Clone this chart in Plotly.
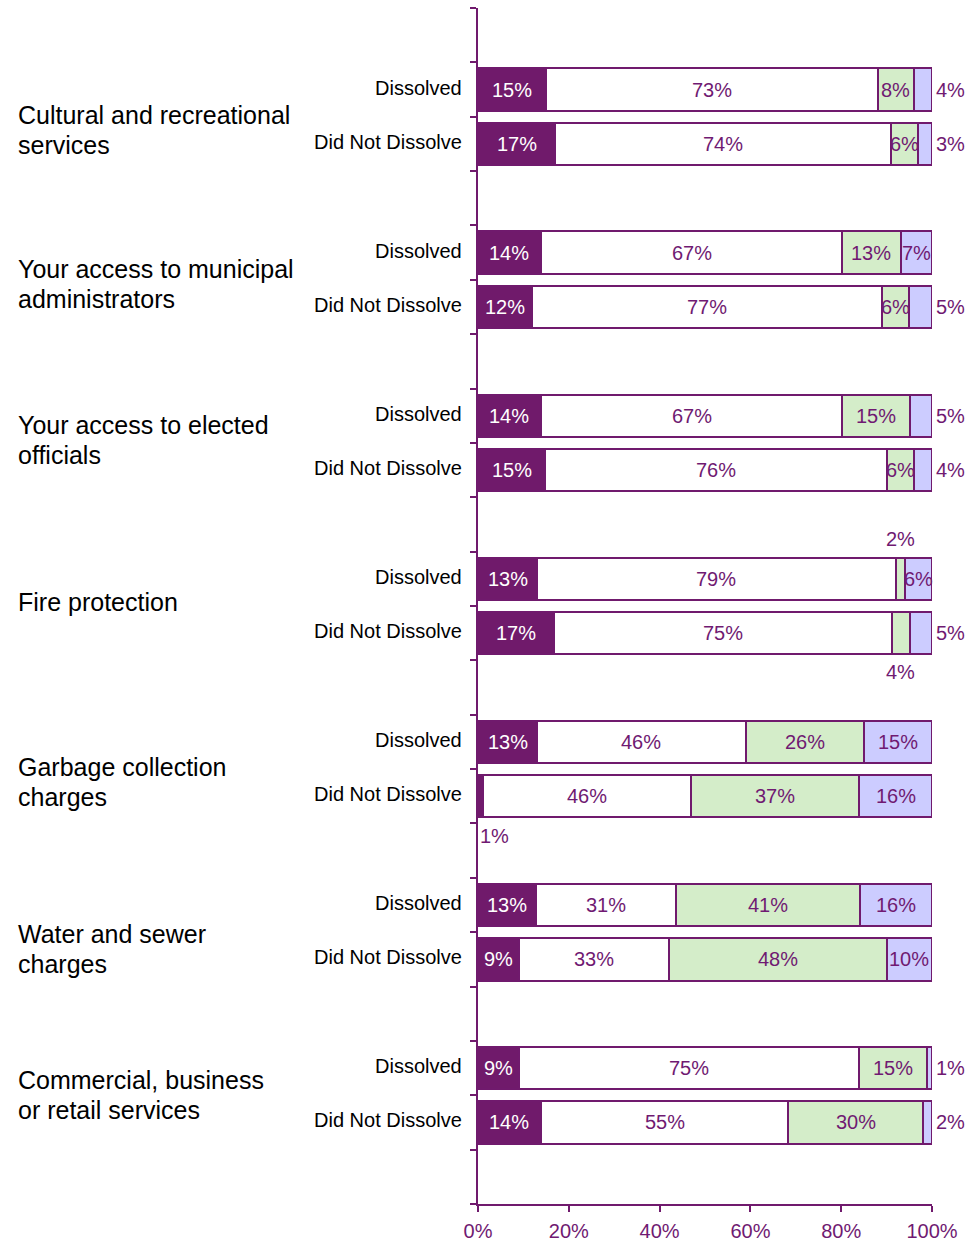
import plotly.graph_objects as go

# ---------------- data ----------------
groups = [
    "Cultural and recreational<br>services",
    "Your access to municipal<br>administrators",
    "Your access to elected<br>officials",
    "Fire protection",
    "Garbage collection<br>charges",
    "Water and sewer<br>charges",
    "Commercial, business<br>or retail services",
]
statuses = ["Dissolved", "Did Not Dissolve"]

# one value per bar row (group order, Dissolved then Did Not Dissolve)
seg1 = [15, 17, 14, 12, 14, 15, 13, 17, 13, 1, 13, 9, 9, 14]
seg2 = [73, 74, 67, 77, 67, 76, 79, 75, 46, 46, 31, 33, 75, 55]
seg3 = [8, 6, 13, 6, 15, 6, 2, 4, 26, 37, 41, 48, 15, 30]
seg4 = [4, 3, 7, 5, 5, 4, 6, 5, 15, 16, 16, 10, 1, 2]
x_ticks = [0, 20, 40, 60, 80, 100]
x_tick_labels = ["0%", "20%", "40%", "60%", "80%", "100%"]

# ---------------- styling ----------------
PURPLE = "#701A6D"
TEXTP = "#701A72"
fills = ["#701A6B", "#FFFFFF", "#D4EDC9", "#CCCCFF"]
FONT = "Liberation Sans, Arial, sans-serif"

segs = [seg1, seg2, seg3, seg4]
nrows = len(seg1)
row_slot = []
for g in range(len(groups)):
    for s in range(len(statuses)):
        row_slot.append(3 * g + 1 + s)
nslots = 3 * len(groups) + 1

totals = [sum(seg[i] for seg in segs) for i in range(nrows)]
norm = [[seg[i] / totals[i] * 100 for i in range(nrows)] for seg in segs]

fig = go.Figure()
for k in range(4):
    fig.add_trace(go.Bar(
        orientation="h",
        x=norm[k],
        y=row_slot,
        width=0.78,
        marker=dict(color=fills[k], line=dict(color=PURPLE, width=2)),
        showlegend=False,
        hoverinfo="skip",
    ))

# label placement overrides (row, segment) -> mode
place = {
    (0, 3): "r", (1, 3): "r", (3, 3): "r", (4, 3): "r", (5, 3): "r",
    (6, 2): "a", (7, 2): "b", (7, 3): "r", (9, 0): "bl",
    (12, 3): "r", (13, 3): "r",
}

ann = []
for i in range(nrows):
    cum = 0
    for k in range(4):
        v = norm[k][i]
        mode = place.get((i, k), "c")
        color = "#FFFFFF" if (k == 0 and mode == "c") else TEXTP
        a = dict(y=row_slot[i], xref="x", yref="y", text=f"{segs[k][i]}%",
                 showarrow=False, font=dict(family=FONT, size=20, color=color))
        if mode == "c":
            a.update(x=cum + v / 2, xanchor="center")
        elif mode == "r":
            a.update(x=100, xanchor="left", xshift=2)
        elif mode == "a":
            a.update(x=cum + v / 2, xanchor="center", yshift=40)
        elif mode == "b":
            a.update(x=cum + v / 2, xanchor="center", yshift=-39)
        elif mode == "bl":
            a.update(x=cum, xanchor="left", xshift=0, yshift=-40)
        ann.append(a)
        cum += v

# status labels
for i in range(nrows):
    ann.append(dict(x=0, y=row_slot[i], xref="paper", yref="y", xanchor="right",
                    xshift=-14, yshift=2, text=statuses[i % 2], showarrow=False,
                    font=dict(family=FONT, size=20, color="#000000")))

# group labels (one annotation per line, 30px line spacing)
gshift = [-13.5, -4.5, 3, 4, -13, -17, 0]
LINE = 30
for g, name in enumerate(groups):
    lines = name.split("<br>")
    n = len(lines)
    for j, line in enumerate(lines):
        off = ((n - 1) / 2 - j) * LINE
        ann.append(dict(x=0, y=3 * g + 1.5, xref="paper", yref="y", xanchor="left",
                        xshift=-462, yshift=gshift[g] + off, text=line,
                        showarrow=False,
                        font=dict(family=FONT, size=25, color="#000000")))

fig.update_layout(
    width=977, height=1245,
    margin=dict(l=478, r=45, t=8, b=41),
    barmode="stack",
    plot_bgcolor="white", paper_bgcolor="white",
    annotations=ann,
    xaxis=dict(range=[0, 100], tickvals=x_ticks, ticktext=x_tick_labels,
               automargin=False,
               showgrid=False, zeroline=False, showline=True,
               linecolor=PURPLE, linewidth=2, ticks="outside", ticklen=6,
               tickwidth=2, tickcolor=PURPLE, ticklabelstandoff=2,
               tickfont=dict(family=FONT, size=20, color=TEXTP)),
    yaxis=dict(range=[nslots - 0.5, -0.5], automargin=False,
               tickvals=[k - 0.5 for k in range(nslots + 1)],
               showticklabels=False, showgrid=False, zeroline=False,
               showline=True, linecolor=PURPLE, linewidth=2,
               ticks="outside", ticklen=6, tickwidth=2, tickcolor=PURPLE),
)

fig.write_html(
    "out.html",
    config={"displayModeBar": False},
    post_script="document.body.style.margin='0';document.body.style.overflow='hidden';",
)
